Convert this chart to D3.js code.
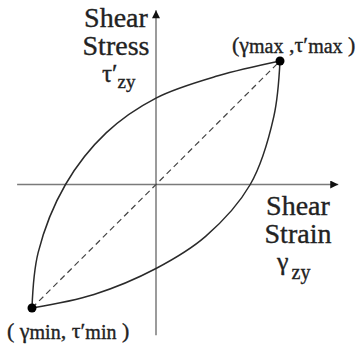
<!DOCTYPE html>
<html>
<head>
<meta charset="utf-8">
<script src="https://cdn.jsdelivr.net/npm/d3@7"></script>
<style>
  body { margin: 0; background: #fff; }
</style>
</head>
<body>
<div id="chart"></div>
<script>
// hysteresis loop, normalised so that (γmin, τ'min) = (-1,-1) and (γmax, τ'max) = (1,1)
const upperStrain = [-1, -0.95, -0.73, -0.4, 0, 0.5, 1]
const upperStress = [-1, -0.55, 0, 0.42, 0.70, 0.88, 1]
const lowerStrain = [-1, -0.5, 0, 0.4, 0.76, 0.95, 1]
const lowerStress = [-1, -0.89, -0.68, -0.42, 0, 0.55, 1]
const peakStrain = [-1, 1]
const peakStress = [-1, 1]
const xAxisExtent = [-1.12, 1.47]
const yAxisExtent = [-1.22, 1.41]

let w = 360,
    h = 348,
    serif = '"Liberation Serif", "Times New Roman", serif'

let svg = d3.select('#chart')
    .append('svg')
    .attr('width', w)
    .attr('height', h)
    .attr('font-family', serif)

let x = d3.scaleLinear().domain([-1, 1]).range([32, 280])
let y = d3.scaleLinear().domain([-1, 1]).range([308, 61])

svg.append('defs')
    .append('marker')
    .attr('id', 'arrow')
    .attr('viewBox', '0 0 10 10')
    .attr('refX', 10)
    .attr('refY', 5)
    .attr('markerWidth', 10)
    .attr('markerHeight', 8)
    .attr('markerUnits', 'userSpaceOnUse')
    .attr('orient', 'auto')
    .append('path')
    .attr('d', 'M0,0 L10,5 L0,10 Z')
    .attr('fill', '#111')

// axes
svg.append('line')
    .attr('x1', x(xAxisExtent[0])).attr('x2', x(xAxisExtent[1]))
    .attr('y1', y(0)).attr('y2', y(0))
    .attr('stroke', '#7a7a7a')
    .attr('stroke-width', 1.5)
    .attr('marker-end', 'url(#arrow)')
svg.append('line')
    .attr('x1', x(0)).attr('x2', x(0))
    .attr('y1', y(yAxisExtent[0])).attr('y2', y(yAxisExtent[1]))
    .attr('stroke', '#7a7a7a')
    .attr('stroke-width', 1.5)
    .attr('marker-end', 'url(#arrow)')

// dashed chord through the origin
svg.append('line')
    .attr('x1', x(peakStrain[0])).attr('y1', y(peakStress[0]))
    .attr('x2', x(peakStrain[1])).attr('y2', y(peakStress[1]))
    .attr('stroke', '#444')
    .attr('stroke-width', 1.2)
    .attr('stroke-dasharray', '6,4')

let loop = d3.line()
    .x(d => x(d[0]))
    .y(d => y(d[1]))
    .curve(d3.curveCatmullRom.alpha(0.5))

svg.append('path')
    .attr('d', loop(d3.zip(upperStrain, upperStress)))
    .attr('fill', 'none')
    .attr('stroke', '#2a2a2a')
    .attr('stroke-width', 1.5)
svg.append('path')
    .attr('d', loop(d3.zip(lowerStrain, lowerStress)))
    .attr('fill', 'none')
    .attr('stroke', '#2a2a2a')
    .attr('stroke-width', 1.5)

svg.selectAll('circle')
    .data(d3.zip(peakStrain, peakStress))
    .enter()
    .append('circle')
    .attr('cx', d => x(d[0]))
    .attr('cy', d => y(d[1]))
    .attr('r', 4.5)
    .attr('fill', '#000')

// scanned look: slightly heavier glyphs
let txt = (sel) => sel.attr('fill', '#222').attr('stroke', '#222').attr('stroke-width', 0.35)

// axis titles
let yTitle = svg.append('text').call(txt).attr('font-size', 28).attr('text-anchor', 'middle')
yTitle.append('tspan').attr('x', 116).attr('y', 27).text('Shear')
yTitle.append('tspan').attr('x', 116).attr('y', 55).text('Stress')
let tau = svg.append('text').call(txt).attr('x', 102).attr('y', 82).attr('font-size', 25)
tau.append('tspan').text('τ′')
tau.append('tspan').attr('font-size', 19).attr('dy', 6).text('zy')

let xTitle = svg.append('text').call(txt).attr('font-size', 28).attr('text-anchor', 'middle')
xTitle.append('tspan').attr('x', 298).attr('y', 215).text('Shear')
xTitle.append('tspan').attr('x', 298).attr('y', 243).text('Strain')
let gam = svg.append('text').call(txt).attr('x', 277).attr('y', 270).attr('font-size', 26)
gam.append('tspan').text('γ')
gam.append('tspan').attr('font-size', 20).attr('dy', 9).attr('dx', 3).text('zy')

// peak labels
let maxLabel = svg.append('text').call(txt).attr('x', x(1) - 48).attr('y', y(1) - 9).attr('font-size', 22)
maxLabel.append('tspan').text('(γ')
maxLabel.append('tspan').attr('font-size', 20).attr('dy', 1).text('max')
maxLabel.append('tspan').attr('dy', -1).text(' ,τ′')
maxLabel.append('tspan').attr('font-size', 20).attr('dy', 1).text('max')
maxLabel.append('tspan').attr('dy', -1).text(' )')

let minLabel = svg.append('text').call(txt).attr('x', x(-1) - 25).attr('y', y(-1) + 30).attr('font-size', 22)
minLabel.append('tspan').text('( γ')
minLabel.append('tspan').attr('font-size', 20).attr('dy', 1).text('min')
minLabel.append('tspan').attr('dy', -1).text(', τ′')
minLabel.append('tspan').attr('font-size', 20).attr('dy', 1).text('min')
minLabel.append('tspan').attr('dy', -1).text(' )')
</script>
</body>
</html>
